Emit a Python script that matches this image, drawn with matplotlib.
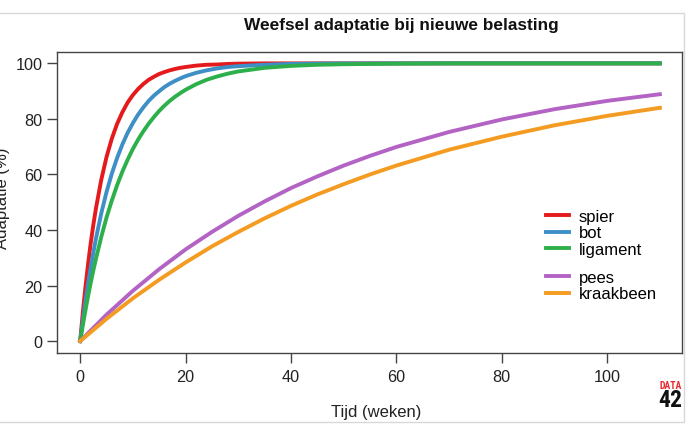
import matplotlib
matplotlib.use("Agg")
import matplotlib.pyplot as plt
from matplotlib import font_manager
from matplotlib.patches import Rectangle

plt.rcParams['font.family'] = ['Liberation Sans', 'DejaVu Sans']

weeks_fast = [0, 0.5, 1, 1.5, 2, 2.5, 3, 4, 5, 6, 7, 8, 9, 10, 11, 12, 13, 14,
              15, 16, 17, 18, 19, 20, 22, 24, 26, 28, 30, 35, 40, 45, 50, 60,
              70, 80, 90, 100, 110]
spier = [0, 10.3, 19.5, 27.8, 35.3, 41.9, 47.9, 58.1, 66.3, 72.9, 78.2, 82.4,
         85.9, 88.6, 90.8, 92.6, 94.1, 95.2, 96.2, 96.9, 97.5, 98.0, 98.4,
         98.7, 99.2, 99.5, 99.6, 99.8, 99.9, 100, 100, 100, 100, 100, 100,
         100, 100, 100, 100]
bot = [0, 7.4, 14.3, 20.6, 26.5, 31.9, 37.0, 46.0, 53.7, 60.3, 65.9, 70.8,
       75.0, 78.5, 81.6, 84.2, 86.5, 88.4, 90.0, 91.5, 92.7, 93.7, 94.6, 95.4,
       96.6, 97.5, 98.2, 98.7, 99.0, 99.5, 99.8, 99.9, 100, 100, 100, 100,
       100, 100, 100]
ligament = [0, 5.7, 11.1, 16.2, 21.0, 25.5, 29.7, 37.5, 44.5, 50.6, 56.1,
            61.0, 65.3, 69.2, 72.6, 75.6, 78.3, 80.7, 82.9, 84.8, 86.5, 88.0,
            89.3, 90.5, 92.5, 94.1, 95.3, 96.3, 97.1, 98.4, 99.1, 99.5, 99.7,
            99.9, 100, 100, 100, 100, 100]

# slow curves
weeks_slow = [0, 5, 10, 15, 20, 25, 30, 35, 40, 45, 50, 55, 60, 70, 80, 90,
              100, 110]
pees = [0, 9.5, 18.1, 25.9, 33.0, 39.3, 45.1, 50.3, 55.1, 59.3, 63.2, 66.7,
        69.9, 75.3, 79.8, 83.5, 86.5, 88.9]
kraakbeen = [0, 8.0, 15.4, 22.1, 28.3, 34.1, 39.3, 44.2, 48.7, 52.8, 56.5,
             60.0, 63.2, 68.9, 73.6, 77.7, 81.1, 84.0]

x_ticks = [0, 20, 40, 60, 80, 100]
y_ticks = [0, 20, 40, 60, 80, 100]

W, H = 700, 435
fig = plt.figure(figsize=(7, 4.35), dpi=100)
ax = fig.add_axes([57 / W, 1 - 354 / H, 625 / W, 301 / H])

lw = 2.8
l1, = ax.plot(weeks_fast, spier, color='#E41A1C', lw=lw, label='spier')
l2, = ax.plot(weeks_fast, bot, color='#3D8FC6', lw=lw, label='bot')
l3, = ax.plot(weeks_fast, ligament, color='#2DB04B', lw=lw, label='ligament')
l4, = ax.plot(weeks_slow, pees, color='#B263C4', lw=lw, label='pees')
l5, = ax.plot(weeks_slow, kraakbeen, color='#F49B22', lw=lw, label='kraakbeen')

ax.set_xlim(-4.4, 114.2)
ax.set_ylim(-4.3, 104.1)
ax.set_xticks(x_ticks)
ax.set_yticks(y_ticks)
for s in ax.spines.values():
    s.set_color('#444444')
    s.set_linewidth(1.0)
ax.tick_params(axis='both', length=7, width=1.0, color='#444444',
               labelsize=11.7, labelcolor='#222222')
ax.tick_params(axis='x', pad=4.3)
ax.tick_params(axis='y', pad=3.6)

ax.set_ylabel('Adaptatie (%)', fontsize=12, color='#222222')
ax.yaxis.set_label_coords(-0.075, 0.518)

# legend in two blocks, the second a bit lower
leg_kw = dict(loc='upper left', bbox_transform=fig.transFigure, frameon=False,
              fontsize=12, borderpad=0, borderaxespad=0, handlelength=1.4,
              handletextpad=0.55, labelspacing=0.08)
leg1 = ax.legend(handles=[l1, l2, l3], bbox_to_anchor=(546 / W, 1 - 210 / H),
                 **leg_kw)
ax.add_artist(leg1)
ax.legend(handles=[l4, l5], bbox_to_anchor=(546 / W, 1 - 271 / H), **leg_kw)

fig.text(401.5 / W, 1 - 30 / H, 'Weefsel adaptatie bij nieuwe belasting',
         ha='center', va='baseline', fontsize=12.4, fontweight='bold',
         color='#111111')
fig.text(376 / W, 1 - 417 / H, 'Tijd (weken)', ha='center', va='baseline',
         fontsize=12, color='#222222')

# logo bottom right, needs a narrow font
names = {f.name for f in font_manager.fontManager.ttflist}
narrow = None
for cand in ['Liberation Sans Narrow', 'DejaVu Sans Condensed',
             'Roboto Condensed', 'Open Sans Condensed']:
    if cand in names:
        narrow = cand
        break
if narrow:
    logo_font = dict(family=[narrow, 'DejaVu Sans'])
    size_data, size_42 = 7, 17
else:
    logo_font = dict(family=['DejaVu Sans'], fontstretch='condensed')
    size_data, size_42 = 5, 12
fig.text(682 / W, 1 - 389 / H, 'DATA', ha='right', va='baseline',
         fontsize=size_data, fontweight='bold', color='#E8262B', **logo_font)
fig.text(682 / W, 1 - 407.5 / H, '42', ha='right', va='baseline',
         fontsize=size_42, fontweight='bold', color='#111111', **logo_font)

# light grey frame of the screenshot
fig.add_artist(Rectangle((-0.01, 1 - 423 / H), 684 / W + 0.01, 409 / H,
                         transform=fig.transFigure, fill=False,
                         edgecolor='#d8d8d8', lw=1.0))

fig.savefig('out.png', dpi=100)
